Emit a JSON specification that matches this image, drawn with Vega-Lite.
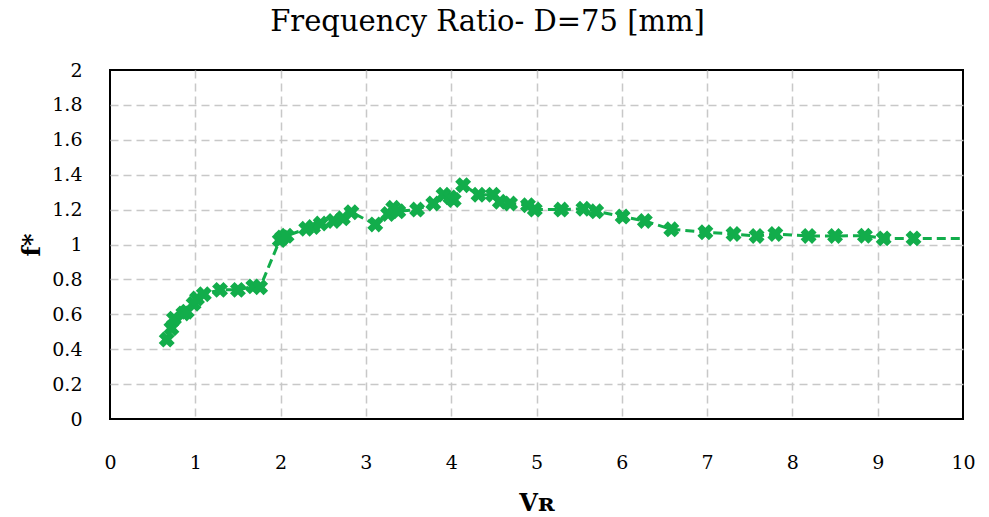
{
  "$schema": "https://vega.github.io/schema/vega-lite/v6.json",
  "width": 853,
  "height": 349,
  "autosize": {"type": "none"},
  "padding": {"left": 110, "top": 70, "right": 26, "bottom": 98},
  "background": "white",
  "config": {
    "font": "DejaVu Serif",
    "view": {"stroke": "black", "strokeWidth": 2},
    "axis": {
      "domain": false,
      "ticks": false,
      "grid": true,
      "gridDash": [8, 5],
      "gridWidth": 1.5,
      "labelFont": "DejaVu Serif",
      "labelFontSize": 19,
      "labelColor": "black",
      "labelFlush": false,
      "titleFont": "DejaVu Serif",
      "titleColor": "black",
      "titleFontWeight": "bold",
      "titleFontSize": 24
    }
  },
  "title": {
    "text": "Frequency Ratio- D=75 [mm]",
    "font": "DejaVu Serif",
    "fontSize": 29,
    "fontWeight": "normal",
    "color": "black",
    "anchor": "middle",
    "dx": -49,
    "offset": 24
  },
  "data": {
    "values": [
      {"vr": 0.665, "f": 0.455},
      {"vr": 0.72, "f": 0.52},
      {"vr": 0.75, "f": 0.575},
      {"vr": 0.86, "f": 0.605},
      {"vr": 0.9, "f": 0.615},
      {"vr": 0.98, "f": 0.66},
      {"vr": 1.02, "f": 0.69},
      {"vr": 1.1, "f": 0.715},
      {"vr": 1.29, "f": 0.74},
      {"vr": 1.5, "f": 0.74},
      {"vr": 1.68, "f": 0.76},
      {"vr": 1.76, "f": 0.755},
      {"vr": 1.99, "f": 1.025},
      {"vr": 2.02, "f": 1.04},
      {"vr": 2.07, "f": 1.05},
      {"vr": 2.3, "f": 1.09},
      {"vr": 2.38, "f": 1.1},
      {"vr": 2.47, "f": 1.12},
      {"vr": 2.62, "f": 1.135},
      {"vr": 2.73, "f": 1.15},
      {"vr": 2.83, "f": 1.185},
      {"vr": 3.11, "f": 1.115},
      {"vr": 3.26, "f": 1.175},
      {"vr": 3.32, "f": 1.21},
      {"vr": 3.38, "f": 1.19},
      {"vr": 3.6, "f": 1.2},
      {"vr": 3.79, "f": 1.235},
      {"vr": 3.91, "f": 1.285},
      {"vr": 3.99, "f": 1.27},
      {"vr": 4.03, "f": 1.255},
      {"vr": 4.14, "f": 1.34},
      {"vr": 4.32, "f": 1.285},
      {"vr": 4.49, "f": 1.285},
      {"vr": 4.57, "f": 1.245},
      {"vr": 4.69, "f": 1.235},
      {"vr": 4.9, "f": 1.225},
      {"vr": 4.98, "f": 1.2},
      {"vr": 5.29, "f": 1.2},
      {"vr": 5.55, "f": 1.205},
      {"vr": 5.7, "f": 1.19},
      {"vr": 6.01, "f": 1.16},
      {"vr": 6.27, "f": 1.135},
      {"vr": 6.58, "f": 1.087},
      {"vr": 6.98, "f": 1.07},
      {"vr": 7.31, "f": 1.06},
      {"vr": 7.58, "f": 1.049},
      {"vr": 7.8, "f": 1.06},
      {"vr": 8.19, "f": 1.049},
      {"vr": 8.5, "f": 1.049},
      {"vr": 8.85, "f": 1.05},
      {"vr": 9.07, "f": 1.035},
      {"vr": 9.42, "f": 1.035},
      {"vr": 10.5, "f": 1.035}
    ]
  },
  "encoding": {
    "x": {
      "field": "vr",
      "type": "quantitative",
      "scale": {"domain": [0, 10], "nice": false},
      "axis": {
        "title": "Vʀ",
        "values": [0, 1, 2, 3, 4, 5, 6, 7, 8, 9, 10],
        "labelOverlap": false,
        "format": "~r",
        "labelPadding": 34,
        "titlePadding": 19,
        "gridColor": {"condition": {"test": "datum.value <= 0 || datum.value >= 10", "value": "transparent"}, "value": "#c8c8c8"}
      }
    },
    "y": {
      "field": "f",
      "type": "quantitative",
      "scale": {"domain": [0, 2], "nice": false},
      "axis": {
        "title": "f*",
        "values": [0, 0.2, 0.4, 0.6, 0.8, 1, 1.2, 1.4, 1.6, 1.8, 2],
        "labelOverlap": false,
        "format": "~r",
        "labelPadding": 28,
        "titlePadding": 7,
        "gridColor": {"condition": {"test": "datum.value <= 0 || datum.value >= 2", "value": "transparent"}, "value": "#c8c8c8"}
      }
    }
  },
  "layer": [
    {
      "mark": {"type": "line", "clip": true, "color": "#12ad4b", "strokeWidth": 3, "strokeDash": [9, 5]}
    },
    {
      "mark": {"type": "point", "clip": true, "shape": "cross", "angle": 45, "filled": true, "color": "#12ad4b", "opacity": 1, "size": 260}
    }
  ]
}
